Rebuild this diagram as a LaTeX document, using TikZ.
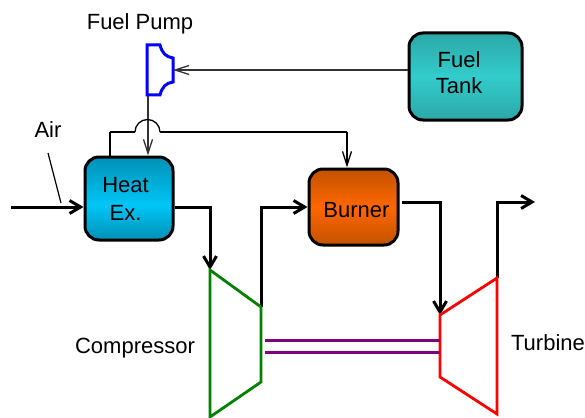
\documentclass[tikz,border=0pt]{standalone}
\usepackage{fontspec}
\setmainfont{Liberation Sans}
\usetikzlibrary{arrows.meta}
\definecolor{heatd}{HTML}{0090B5}
\definecolor{heatl}{HTML}{00C6F7}
\definecolor{burnd}{HTML}{C25200}
\definecolor{burnl}{HTML}{FF6600}
\definecolor{tankd}{HTML}{2BA8A6}
\definecolor{tankl}{HTML}{33CCCC}
\definecolor{shaft}{HTML}{800080}
\definecolor{compg}{HTML}{008000}
\pgfdeclareverticalshading{heatshade}{100bp}{color(0bp)=(heatd); color(25bp)=(heatd); color(46bp)=(heatl); color(75bp)=(heatd); color(100bp)=(heatd)}
\pgfdeclareverticalshading{burnshade}{100bp}{color(0bp)=(burnd); color(25bp)=(burnd); color(50bp)=(burnl); color(75bp)=(burnd); color(100bp)=(burnd)}
\pgfdeclareverticalshading{tankshade}{100bp}{color(0bp)=(tankd); color(25bp)=(tankd); color(50bp)=(tankl); color(75bp)=(tankd); color(100bp)=(tankd)}
\tikzset{
  lbl/.style={inner sep=0pt,anchor=center,text=black,font=\fontsize{22}{26}\selectfont},
  unit/.style={draw=black,line width=3pt,rounded corners=14pt,inner sep=0pt},
  heatbox/.style={unit,minimum width=88pt,minimum height=83pt,shading=heatshade},
  burnbox/.style={unit,minimum width=89pt,minimum height=76pt,shading=burnshade},
  tankbox/.style={unit,minimum width=113pt,minimum height=87pt,shading=tankshade},
  thickflow/.style={draw=black,line width=3pt,line join=miter},
  thinflow/.style={draw=black!80,line width=1.3pt},
  bigtip/.style={-{Straight Barb[length=11pt,width=13pt,line width=3pt]}},
  smalltip/.style={-{Straight Barb[length=14pt,width=9pt,line width=1.3pt]}},
}
\begin{document}
\begin{tikzpicture}[x=1pt,y=-1pt]
\useasboundingbox (0,0) rectangle (585,417);
% named points
\coordinate (airin) at (11,207);
\coordinate (airA) at (48,153);
\coordinate (airB) at (61,203);
\coordinate (c1) at (210,270);
\coordinate (c2) at (261,307);
\coordinate (c3) at (261,382);
\coordinate (c4) at (210,417);
\coordinate (t1) at (440,315);
\coordinate (t2) at (497,278);
\coordinate (t3) at (497,414);
\coordinate (t4) at (440,377);
\coordinate (out) at (535,202);
% units
\node[heatbox] (heat) at (129,198.5) {};
\node[burnbox] (burner) at (353.5,207) {};
\node[tankbox] (tank) at (465.5,76.5) {};
\node[lbl] (heat1) at (125.5,185) {Heat};
\node[lbl] (heat2) at (125.5,213) {Ex.};
\node[lbl] (burn1) at (356.5,210.5) {Burner};
\node[lbl] (tank1) at (459,60) {Fuel};
\node[lbl] (tank2) at (459,86) {Tank};
\node[lbl] (airlbl) at (48,130) {Air};
\node[lbl] (pumplbl) at (140,24) {Fuel Pump};
\node[lbl] (complbl) at (135,348) {Compressor};
\node[lbl] (turblbl) at (548,343) {Turbine};
% pump
\coordinate (pumpin) at (173,70);
\coordinate (pumpout) at (148,96);
\draw[thinflow,smalltip] (tank.west |- pumpin) -- (pumpin);
\draw[thinflow,smalltip] (pumpout) -- (pumpout |- heat.north);
\draw[blue,line width=3pt,line join=miter] (147,45) -- (160,45) .. controls (162,53) and (166,57) .. (173,58) -- (173,82) .. controls (166,83) and (162,87) .. (160,95) -- (147,95) -- cycle;
% fuel line
\coordinate (h1) at (110,157);
\coordinate (h2) at (110,132);
\coordinate (h3) at (135,132);
\coordinate (h4) at (160,132);
\coordinate (h5) at (347,132);
\draw[black,line width=1.3pt] (h1) -- (h2);
\draw[black,line width=2.4pt] (h2) -- (h3);
\draw[black,line width=1.3pt] (h3) arc[start angle=180,end angle=360,radius=12.5];
\draw[black,line width=1.3pt] (h4) -- (h5);
\draw[black,line width=1.3pt,smalltip] (h5) -- (h5 |- burner.north);
% gas path
\draw[thickflow,bigtip] (airin) -- (heat.west |- airin);
\draw[black,line width=1.2pt] (airA) -- (airB);
\draw[thickflow,bigtip] (heat.east |- airin) -- (c1 |- airin) -- (c1);
\draw[thickflow,bigtip] (c2) -- (c2 |- burner.west) -- (burner.west);
\coordinate (bo) at (402,202);
\draw[thickflow,bigtip] (bo) -- (t1 |- bo) -- (t1);
\draw[thickflow,bigtip] (t2) -- (t2 |- out) -- (out);
% machines
\draw[compg,line width=2.8pt,line join=miter] (c1) -- (c2) -- (c3) -- (c4) -- cycle;
\draw[red,line width=2.8pt,line join=miter] (t1) -- (t2) -- (t3) -- (t4) -- cycle;
\coordinate (s1) at (265,340);
\coordinate (s2) at (265,352);
\draw[shaft,line width=3pt] (s1) -- (s1 -| t1);
\draw[shaft,line width=3pt] (s2) -- (s2 -| t1);
\end{tikzpicture}
\end{document}
